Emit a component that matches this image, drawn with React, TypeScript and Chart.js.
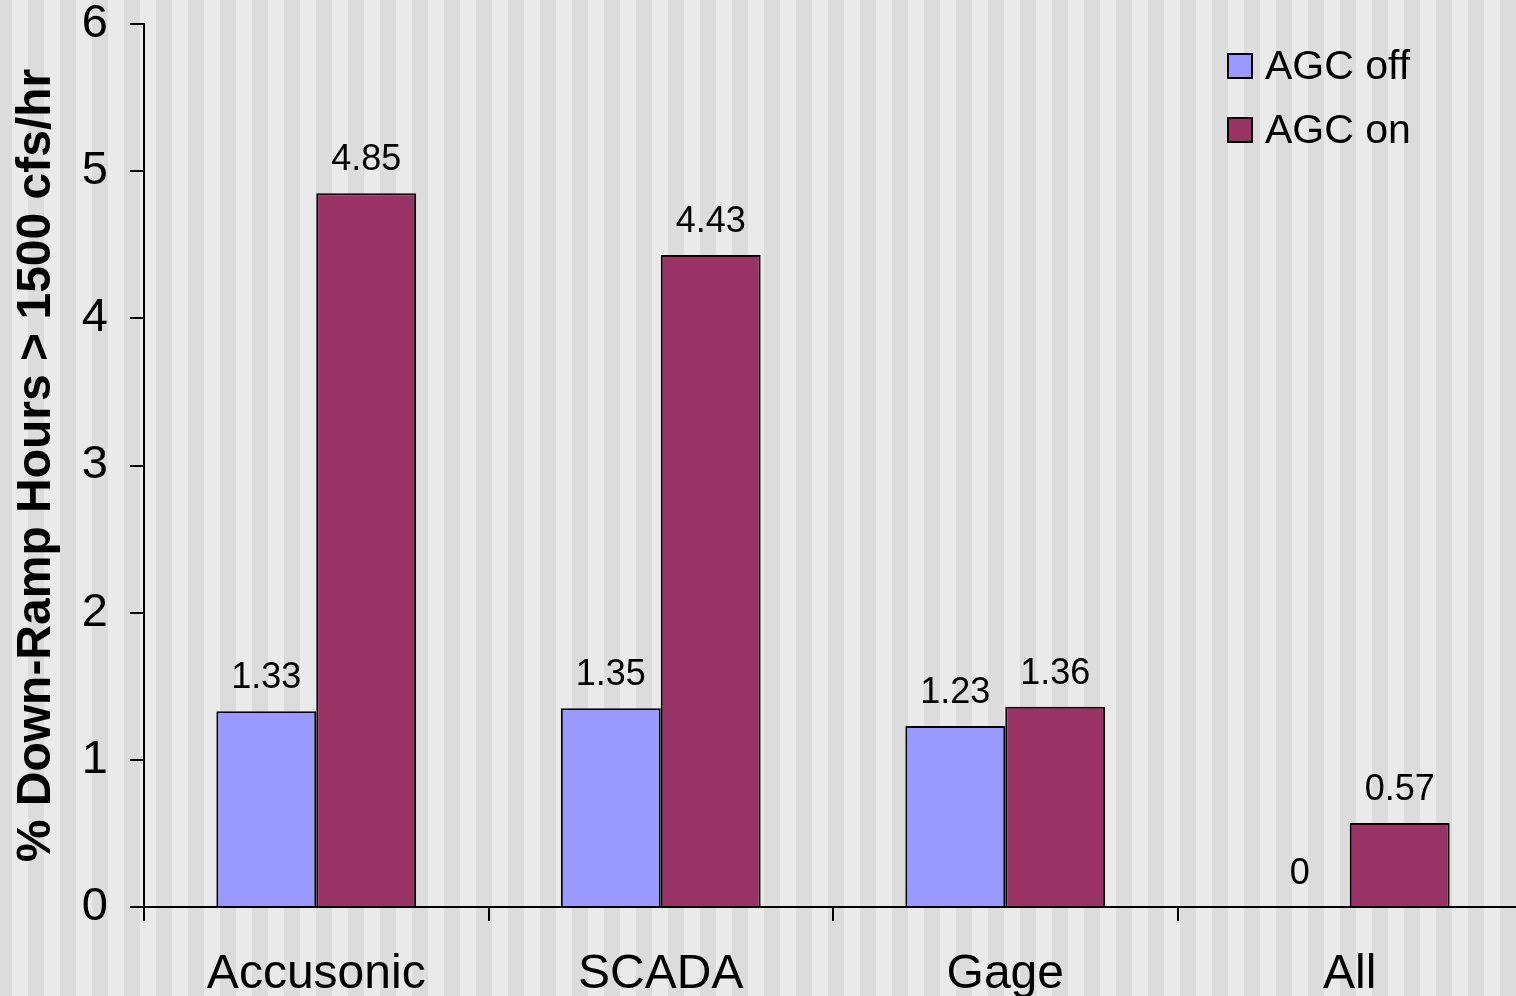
import React, { useEffect, useRef } from "react";
import { Chart, registerables } from "chart.js";

Chart.register(...registerables);

const categories = ["Accusonic", "SCADA", "Gage", "All"];
const agcOff = [1.33, 1.35, 1.23, 0];
const agcOn = [4.85, 4.43, 1.36, 0.57];
const seriesLabels = ["AGC off", "AGC on"];
const seriesColors = ["#9999FF", "#993366"];
const yTicks = [0, 1, 2, 3, 4, 5, 6];
const yTitle = "% Down-Ramp Hours > 1500 cfs/hr";

const FONT = "'Liberation Sans', Arial, sans-serif";

const stripesPlugin = {
  id: "stripes",
  beforeDraw(chart: any) {
    const ctx = chart.ctx;
    ctx.save();
    ctx.fillStyle = "#EAEAEA";
    ctx.fillRect(0, 0, chart.width, chart.height);
    ctx.fillStyle = "#DCDCDC";
    for (let x = -4; x < chart.width; x += 32) {
      ctx.fillRect(x, 0, 16, chart.height);
    }
    ctx.restore();
  },
};

const valueLabelsPlugin = {
  id: "valueLabels",
  afterDatasetsDraw(chart: any) {
    const ctx = chart.ctx;
    ctx.save();
    ctx.font = `36px ${FONT}`;
    ctx.fillStyle = "#000";
    ctx.textAlign = "center";
    ctx.textBaseline = "alphabetic";
    chart.data.datasets.forEach((ds: any, di: number) => {
      const meta = chart.getDatasetMeta(di);
      meta.data.forEach((bar: any, i: number) => {
        const v = ds.data[i];
        ctx.fillText(String(v), bar.x, bar.y - 23);
      });
    });
    ctx.restore();
  },
};

const legendPlugin = {
  id: "customLegend",
  afterDraw(chart: any) {
    const ctx = chart.ctx;
    ctx.save();
    const boxX = 1228;
    const firstY = 66;
    const rowGap = 64;
    const size = 24;
    chart.data.datasets.forEach((ds: any, i: number) => {
      const cy = firstY + i * rowGap;
      ctx.fillStyle = ds.backgroundColor;
      ctx.fillRect(boxX, cy - size / 2, size, size);
      ctx.lineWidth = 2;
      ctx.strokeStyle = "#000";
      ctx.strokeRect(boxX, cy - size / 2, size, size);
      ctx.fillStyle = "#000";
      ctx.font = `41px ${FONT}`;
      ctx.textAlign = "left";
      ctx.textBaseline = "middle";
      ctx.fillText(ds.label, 1265, cy + 2);
    });
    ctx.restore();
  },
};

export default function App() {
  const ref = useRef<HTMLCanvasElement | null>(null);

  useEffect(() => {
    if (!ref.current) return;
    const chart = new Chart(ref.current, {
      type: "bar",
      data: {
        labels: categories,
        datasets: [
          {
            label: seriesLabels[0],
            data: agcOff,
            backgroundColor: seriesColors[0],
            borderColor: "#000",
            borderWidth: 2,
            categoryPercentage: 0.58,
            barPercentage: 1,
          },
          {
            label: seriesLabels[1],
            data: agcOn,
            backgroundColor: seriesColors[1],
            borderColor: "#000",
            borderWidth: 2,
            categoryPercentage: 0.58,
            barPercentage: 1,
          },
        ],
      },
      options: {
        animation: false,
        responsive: false,
        maintainAspectRatio: false,
        devicePixelRatio: 1,
        layout: { padding: { top: 24, right: 2, left: 0, bottom: 0 } },
        plugins: {
          legend: { display: false },
          tooltip: { enabled: false },
        },
        scales: {
          x: {
            offset: true,
            grid: {
              offset: true,
              drawOnChartArea: false,
              drawTicks: true,
              tickLength: 14,
              color: "#000",
              lineWidth: 2,
            },
            border: { display: true, color: "#000", width: 2 },
            ticks: {
              color: "#000",
              padding: 30,
              font: { family: FONT, size: 48, lineHeight: 1 },
              maxRotation: 0,
              autoSkip: false,
            },
            afterFit(scale: any) {
              scale.height = 89;
              scale.paddingLeft = 0;
              scale.paddingRight = 0;
            },
          },
          y: {
            min: 0,
            max: 6,
            afterBuildTicks(scale: any) {
              scale.ticks = yTicks.map((v) => ({ value: v }));
            },
            grid: {
              drawOnChartArea: false,
              drawTicks: true,
              tickLength: 14,
              color: "#000",
              lineWidth: 2,
            },
            border: { display: true, color: "#000", width: 2 },
            ticks: {
              color: "#000",
              padding: 22,
              font: { family: FONT, size: 47, lineHeight: 1 },
            },
            title: {
              display: true,
              text: yTitle,
              color: "#000",
              font: { family: FONT, size: 48, weight: "bold", lineHeight: 1.2 },
              padding: { top: 8, bottom: 0 },
            },
            afterFit(scale: any) {
              scale.width = 144;
              scale.paddingTop = 0;
              scale.paddingBottom = 0;
            },
          },
        },
      },
      plugins: [stripesPlugin, valueLabelsPlugin, legendPlugin],
    } as any);
    return () => chart.destroy();
  }, []);

  return (
    <div
      style={{
        position: "fixed",
        left: 0,
        top: 0,
        width: 1516,
        height: 996,
        overflow: "hidden",
        background: "#EAEAEA",
      }}
    >
      <canvas
        ref={ref}
        width={1524}
        height={996}
        style={{ display: "block", width: 1524, height: 996 }}
      />
    </div>
  );
}
